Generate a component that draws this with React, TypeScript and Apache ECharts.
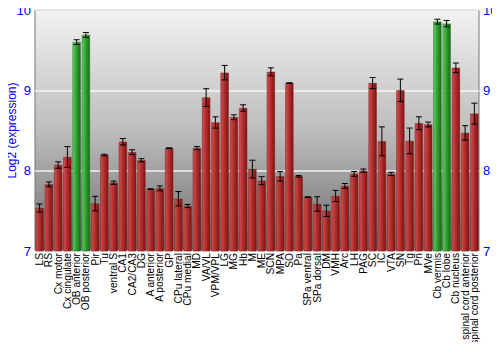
import React, { useEffect, useRef } from "react";
import * as echarts from "echarts";

const categories = [
  "LS", "RS", "Cx motor", "Cx cingulate", "OB anterior", "OB posterior", "Pir", "Tu",
  "ventral S", "CA1", "CA2/CA3", "DG", "A anterior", "A posterior", "GP", "CPu lateral",
  "CPu medial", "MD", "VA/VL", "VPM/VPL", "LG", "MG", "Hb", "M", "ME", "SCN", "MPA", "SO",
  "Pa", "SPa ventral", "SPa dorsal", "DM", "VMH", "Arc", "LH", "PAG", "SC", "IC", "VTA",
  "SN", "Tg", "Pn", "MVe", "Cb vermis", "Cb lobe", "Cb nucleus", "spinal cord anterior",
  "spinal cord posterior",
];

const values = [
  7.535, 7.83, 8.07, 8.17, 9.6, 9.69, 7.59, 8.195,
  7.85, 8.36, 8.23, 8.13, 7.77, 7.78, 8.28, 7.65,
  7.56, 8.28, 8.91, 8.6, 9.22, 8.665, 8.78, 8.02, 7.875, 9.23, 7.93, 9.09,
  7.93, 7.67, 7.585, 7.5, 7.685, 7.81, 7.96, 8.0, 9.09, 8.365, 7.96,
  9.0, 8.37, 8.59, 8.575, 9.855, 9.83, 9.28, 8.47,
  8.71,
];

const errors = [
  0.05, 0.03, 0.04, 0.13, 0.03, 0.03, 0.09, 0.01,
  0.02, 0.04, 0.03, 0.02, 0.005, 0.03, 0.005, 0.09,
  0.02, 0.02, 0.11, 0.07, 0.09, 0.03, 0.04, 0.11, 0.05, 0.05, 0.06, 0.005,
  0.01, 0.005, 0.09, 0.07, 0.07, 0.03, 0.03, 0.02, 0.07, 0.18, 0.02,
  0.14, 0.16, 0.08, 0.03, 0.03, 0.04, 0.06, 0.09,
  0.13,
];

const highlighted = ["OB anterior", "OB posterior", "Cb vermis", "Cb lobe"];

const redGrad = () =>
  new echarts.graphic.LinearGradient(0, 0, 1, 0, [
    { offset: 0, color: "#d25050" },
    { offset: 0.5, color: "#b02c2c" },
    { offset: 1, color: "#7e1414" },
  ]);
const greenGrad = () =>
  new echarts.graphic.LinearGradient(0, 0, 1, 0, [
    { offset: 0, color: "#66cc66" },
    { offset: 0.5, color: "#2f9e2f" },
    { offset: 1, color: "#1a6a1a" },
  ]);

export default function App() {
  const ref = useRef<HTMLDivElement>(null);
  useEffect(() => {
    const chart = echarts.init(ref.current!, null, { renderer: "svg" });
    const font = "Liberation Sans, Arial, sans-serif";
    chart.setOption({
      animation: false,
      backgroundColor: "#ffffff",
      grid: {
        left: 35,
        right: 21,
        top: 10,
        bottom: 99,
        containLabel: false,
        outerBoundsMode: "none",
        show: true,
        borderColor: "#777777",
        borderWidth: 1,
        backgroundColor: new echarts.graphic.LinearGradient(0, 0, 0, 1, [
          { offset: 0, color: "#f2f2f2" },
          { offset: 0.5, color: "#bdbdbd" },
          { offset: 1, color: "#6c6c6c" },
        ]),
      },
      xAxis: {
        type: "category",
        data: categories,
        axisTick: { show: false },
        axisLine: { show: false },
        axisLabel: {
          interval: 0,
          rotate: 90,
          fontSize: 10.2,
          color: "#000000",
          fontFamily: font,
          margin: 2,
          lineHeight: 10,
          hideOverlap: false,
        },
      },
      yAxis: [
        {
          type: "value",
          min: 7,
          max: 10,
          interval: 1,
          name: "Log2 (expression)",
          nameLocation: "middle",
          nameGap: 17,
          nameMoveOverlap: false,
          nameTextStyle: { color: "#0000ff", fontSize: 12, fontFamily: font },
          axisLine: { show: false },
          axisTick: { show: false },
          axisLabel: { color: "#0000ff", fontSize: 13, fontFamily: font, margin: 4 },
          splitLine: { show: true, lineStyle: { color: "#ffffff", width: 1.5, opacity: 0.85 } },
        },
        {
          type: "value",
          min: 7,
          max: 10,
          interval: 1,
          position: "right",
          axisLine: { show: false },
          axisTick: { show: false },
          axisLabel: { color: "#0000ff", fontSize: 13, fontFamily: font, margin: 4 },
          splitLine: { show: false },
        },
      ],
      series: [
        {
          type: "bar",
          data: values.map((v, i) => ({
            value: v,
            itemStyle: {
              color: highlighted.includes(categories[i]) ? greenGrad() : redGrad(),
              borderColor: highlighted.includes(categories[i]) ? "#1f6f1f" : "#7a1a1a",
              borderWidth: 0.5,
            },
          })),
          barCategoryGap: "12%",
        },
        {
          type: "custom",
          data: values.map((v, i) => [i, v - errors[i], v + errors[i]]),
          renderItem: (params: any, api: any) => {
            const x = api.value(0);
            const lo = api.coord([x, api.value(1)]);
            const hi = api.coord([x, api.value(2)]);
            const cw = 3;
            const style = { stroke: "#000000", lineWidth: 1 };
            return {
              type: "group",
              children: [
                { type: "line", shape: { x1: hi[0], y1: hi[1], x2: lo[0], y2: lo[1] }, style },
                { type: "line", shape: { x1: hi[0] - cw, y1: hi[1], x2: hi[0] + cw, y2: hi[1] }, style },
                { type: "line", shape: { x1: lo[0] - cw, y1: lo[1], x2: lo[0] + cw, y2: lo[1] }, style },
              ],
            };
          },
          z: 10,
        },
      ],
    });
    return () => chart.dispose();
  }, []);
  return <div ref={ref} style={{ width: 500, height: 350, margin: -8 }} />;
}
